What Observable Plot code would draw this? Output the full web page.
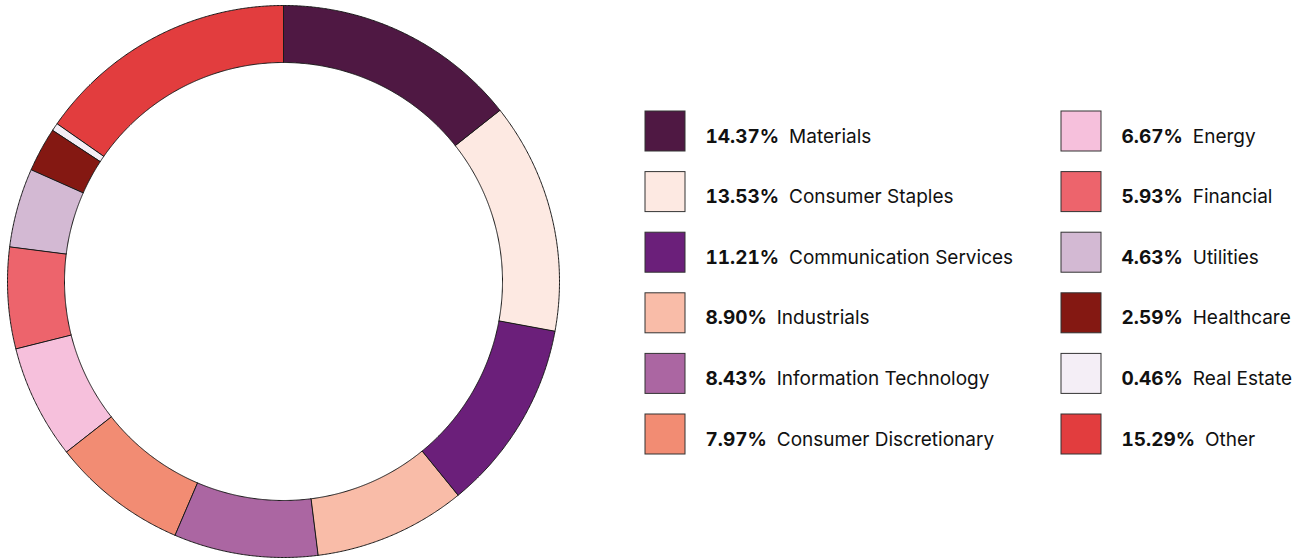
<!DOCTYPE html>
<html><head><meta charset="utf-8">
<script src="https://cdn.jsdelivr.net/npm/d3@7"></script>
<script src="https://cdn.jsdelivr.net/npm/@observablehq/plot@0.6"></script>
<style>body{margin:0;background:#fff;} #chart svg{display:block;}</style>
</head><body><div id="chart"></div>
<script>
const sectors = ["Materials","Consumer Staples","Communication Services","Industrials","Information Technology","Consumer Discretionary","Energy","Financial","Utilities","Healthcare","Real Estate","Other"];
const shares = [14.37,13.53,11.21,8.90,8.43,7.97,6.67,5.93,4.63,2.59,0.46,15.29];
const shareLabels = ["14.37%","13.53%","11.21%","8.90%","8.43%","7.97%","6.67%","5.93%","4.63%","2.59%","0.46%","15.29%"];
const colors = ["#4f1843","#fde9e2","#6b1f7a","#f9bca8","#ab66a2","#f28c73","#f6c0dc","#ed646c","#d3b9d3","#841812","#f4eef6","#e23d3e"];

const W = 1307, H = 560;
const cx = 283, cy = 281, rIn = 219, rOut = 276;
const FONT = "Inter";
const FS = 19;

// slice polygons
const arcs = d3.pie().sort(null).value(d => d)(shares);
const slicePts = [];
arcs.forEach((a, i) => {
  const n = Math.max(2, Math.ceil((a.endAngle - a.startAngle) / 0.005));
  const outer = [], inner = [];
  for (let k = 0; k <= n; k++) {
    const t = a.startAngle + (a.endAngle - a.startAngle) * k / n;
    outer.push({sector: sectors[i], x: cx + rOut * Math.sin(t), y: cy - rOut * Math.cos(t)});
    inner.push({sector: sectors[i], x: cx + rIn * Math.sin(t), y: cy - rIn * Math.cos(t)});
  }
  slicePts.push(...outer, ...inner.reverse());
});

// measure bold percentage widths (tabular numerals)
const probe = document.createElement("span");
probe.style.cssText = `position:absolute;visibility:hidden;white-space:pre;font-family:${FONT};font-size:${FS}px;font-weight:700;font-variant-numeric:tabular-nums;`;
document.body.append(probe);
const measure = s => { probe.textContent = s; return probe.getBoundingClientRect().width; };

const legend = sectors.map((s, i) => {
  const col = Math.floor(i / 6), row = i % 6;
  const sx = col === 0 ? 645 : 1061;
  const cyRow = 131 + row * 60.6;
  const px = sx + 60;
  return {sector: s, pct: shareLabels[i], x1: sx, x2: sx + 40, y1: cyRow - 20, y2: cyRow + 20,
          px, ty: cyRow + 5, lx: px + measure(shareLabels[i]) + 10};
});
probe.remove();

const chart = Plot.plot({
  width: W, height: H, margin: 0,
  style: {fontFamily: FONT, background: "#fff"},
  x: {domain: [0, W], range: [0, W], axis: null},
  y: {domain: [0, H], range: [0, H], axis: null},
  color: {domain: sectors, range: colors},
  marks: [
    Plot.line(slicePts, {x: "x", y: "y", z: "sector", fill: "sector", stroke: "#1a1a1a", strokeWidth: 1, curve: "linear-closed"}),
    Plot.rect(legend, {x1: "x1", x2: "x2", y1: "y1", y2: "y2", fill: "sector", stroke: "#333", strokeWidth: 1}),
    Plot.text(legend, {x: "px", y: "ty", text: "pct", textAnchor: "start", fontWeight: 700, fontSize: FS, fontVariant: "tabular-nums", fill: "#111"}),
    Plot.text(legend, {x: "lx", y: "ty", text: "sector", textAnchor: "start", fontWeight: 400, fontSize: FS, fill: "#111"})
  ]
});
document.getElementById("chart").append(chart);
</script>
</body></html>
